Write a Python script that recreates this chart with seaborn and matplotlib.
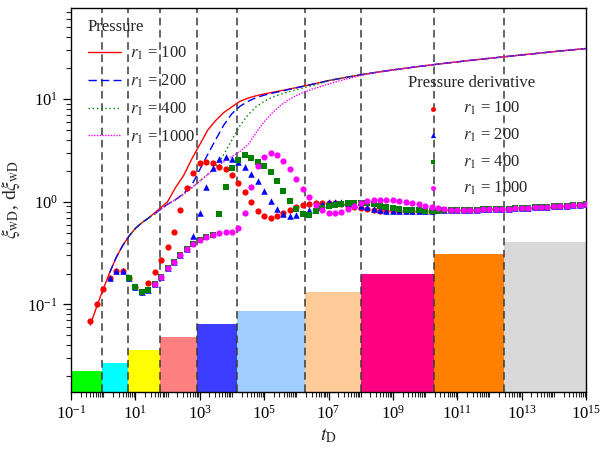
import matplotlib
matplotlib.use("Agg")
import matplotlib.pyplot as plt
import matplotlib.ticker as mticker
import numpy as np
import seaborn as sns

# time grid of the derivative points (log10 t_D)
t_deriv_exp = [-0.4, -0.2, 0.0, 0.2, 0.4, 0.6, 0.8, 1.0, 1.2, 1.4,
               1.6, 1.8, 2.0, 2.2, 2.4, 2.6, 2.8, 3.0, 3.2, 3.4,
               3.6, 3.8, 4.0, 4.2, 4.4, 4.6, 4.8, 5.0, 5.2, 5.4,
               5.6, 5.8, 6.0, 6.2, 6.4, 6.6, 6.8, 7.0, 7.2, 7.4,
               7.6, 7.8, 8.0, 8.2, 8.4, 8.6, 8.8, 9.0, 9.2, 9.4,
               9.6, 9.8, 10.0, 10.2, 10.4, 10.6, 10.8, 11.0, 11.2, 11.4,
               11.6, 11.8, 12.0, 12.2, 12.4, 12.6, 12.8, 13.0, 13.2, 13.4,
               13.6, 13.8, 14.0, 14.2, 14.4, 14.6, 14.8, 15.0]

# derivative values
d_early = [0.069, 0.100, 0.141, 0.182, 0.214, 0.214, 0.182, 0.148, 0.132]
d_late = [0.828, 0.832, 0.834, 0.838, 0.841, 0.845, 0.849, 0.853, 0.859, 0.865,
          0.871, 0.877, 0.883, 0.889, 0.895, 0.902, 0.910, 0.918, 0.927, 0.935, 0.942]
d_r100 = [0.162, 0.207, 0.272, 0.364, 0.509, 0.836, 1.37, 1.92, 2.40, 2.45,
          2.40, 2.19, 2.09, 1.83, 1.53, 1.25, 1.00, 0.817, 0.730, 0.700,
          0.730, 0.780, 0.836, 0.893, 0.935, 0.955, 0.966, 0.977, 0.977, 0.966,
          0.944, 0.912, 0.881, 0.861, 0.841, 0.826, 0.813, 0.807, 0.804, 0.804,
          0.804, 0.807, 0.813, 0.817, 0.820, 0.822, 0.824, 0.826]
d_r200 = [0.138, 0.158, 0.186, 0.224, 0.26, 0.302, 0.347,
          0.468, 0.782, 1.40, 2.14, 2.63, 2.75, 2.63, 2.45, 2.19, 1.86,
          1.58, 1.28, 1.02, 0.855, 0.764, 0.730, 0.746, 0.782, 0.836, 0.891,
          0.944, 0.989, 1.0, 1.0, 0.977, 0.944, 0.912, 0.881, 0.851, 0.832,
          0.817, 0.809, 0.804, 0.804, 0.807, 0.813, 0.817, 0.820, 0.822, 0.824,
          0.826]
d_r400 = [0.138, 0.158, 0.186, 0.224, 0.26, 0.302, 0.347, 0.389, 0.427, 0.457, 0.479,
          0.764, 1.40, 2.14, 2.57, 2.82, 2.69, 2.45, 2.24, 1.95, 1.60,
          1.28, 1.02, 0.855, 0.764, 0.746, 0.813, 0.871, 0.912, 0.933, 0.955,
          0.973, 0.977, 0.977, 0.966, 0.944, 0.912, 0.881, 0.861, 0.848, 0.836,
          0.828, 0.822, 0.818, 0.818, 0.820, 0.822, 0.826]
d_r1000 = [0.158, 0.186, 0.224, 0.26, 0.302, 0.347, 0.389, 0.427, 0.457, 0.479,
           0.50, 0.513, 0.513, 0.55,
           0.782, 1.40, 2.24, 2.75, 2.95, 2.82, 2.51, 2.09, 1.66, 1.33,
           1.10, 0.933, 0.832, 0.785, 0.776, 0.794, 0.841, 0.912, 0.977, 1.01,
           1.03, 1.035, 1.035, 1.03, 1.02, 1.0, 0.977, 0.944, 0.912, 0.881,
           0.861, 0.848, 0.836]

# time grid of the pressure curves (log10 t_D)
t_press_exp = [-0.4, -0.2, 0.0, 0.2, 0.4, 0.6, 0.8, 1.0, 1.2, 1.4,
               1.6, 1.8, 2.0, 2.25, 2.5, 2.75, 3.0, 3.25, 3.5, 3.75,
               4.0, 4.25, 4.5, 4.75, 5.0, 5.25, 5.5, 5.75, 6.0, 6.25,
               6.5, 6.75, 7.0, 7.5, 8.0, 8.5, 9.0, 9.5, 10.0, 10.5,
               11.0, 11.5, 12.0, 12.5, 13.0, 13.5, 14.0, 14.5, 15.0]
p_early = [0.063, 0.0955, 0.141, 0.204, 0.285, 0.372, 0.462, 0.55, 0.624, 0.692]
p_late = [15.1, 16.15, 17.2, 18.2, 19.2, 20.15, 21.1, 22.05, 23.0, 23.95,
          24.9, 25.85, 26.85, 27.85, 28.9, 29.95, 31.0]
p_r100 = [0.78, 0.88, 1.0, 1.38, 1.80, 2.6, 3.6, 5.0, 6.2, 7.4, 8.4, 9.5, 10.2,
          10.75, 11.2, 11.6, 12.0, 12.45, 12.9, 13.4, 13.95, 14.5]
p_r200 = [0.762, 0.851, 0.944, 1.05, 1.2, 1.45, 2.05, 2.9, 4.05, 5.6, 7.2, 8.5, 9.5,
          10.3, 10.9, 11.4, 11.85, 12.35, 12.85, 13.35, 13.9, 14.45]
p_r400 = [0.762, 0.851, 0.944, 1.047, 1.19, 1.365, 1.585, 1.85, 2.2, 2.9, 4.0, 5.5, 7.0,
          8.4, 9.5, 10.4, 11.1, 11.7, 12.3, 12.9, 13.5, 14.2]
p_r1000 = [0.762, 0.851, 0.944, 1.047, 1.19, 1.365, 1.585, 1.84, 2.14, 2.455, 2.754, 3.09, 3.6,
           4.7, 6.0, 7.3, 8.6, 9.8, 10.8, 11.7, 12.5, 13.2, 14.0, 15.5, 16.9]

# flow regimes (shaded bars)
regime_edges = [0.1, 0.94, 5.77, 59.4, 839, 1.41e4, 1.9e6, 1.02e8, 1.93e10, 2.75e12, 1e15]
regime_heights = [0.0225, 0.0269, 0.036, 0.0482, 0.0645, 0.0865, 0.132, 0.198, 0.311, 0.407]
regime_colors = ['#00FF00', '#00FFFF', '#FFFF00', '#FF8080', '#3C3CFF',
                 '#A0CFFF', '#FFCC99', '#FF0080', '#FF8000', '#D9D9D9']

labels = ['$r_1$ = 100', '$r_1$ = 200', '$r_1$ = 400', '$r_1$ = 1000']
colors = ['#FF0000', '#0000FF', '#008000', '#FF00FF']
markers = ['o', '^', 's', 'o']
marker_sizes = [20, 22, 17, 20]
dashes = [None, (6, 3), (1, 2), (1, 1)]

sns.set_style('ticks')
plt.rcParams['font.family'] = ['Liberation Serif', 'DejaVu Serif']
plt.rcParams['mathtext.fontset'] = 'stix'
plt.rcParams['axes.unicode_minus'] = False

fig = plt.figure(figsize=(6.02, 4.51), dpi=100)
ax = fig.add_axes([71 / 602, 1 - 392 / 451, 515 / 602, 384 / 451])
ax.set_xscale('log')
ax.set_yscale('log')

# regime bars
lefts = regime_edges[:-1]
widths = np.diff(regime_edges)
ax.bar(lefts, np.array(regime_heights) - 1e-3, width=widths, bottom=1e-3,
       align='edge', color=regime_colors, linewidth=0, zorder=1)
for b in regime_edges[1:-1]:
    ax.axvline(b, color='#3a3a3a', linestyle=(0, (5, 3)), linewidth=1.1, zorder=2)

t_press = 10 ** np.array(t_press_exp)
t_deriv = 10 ** np.array(t_deriv_exp)

press_series = [p_early + p_r100 + p_late,
                p_early[3:] + p_r200 + p_late,
                p_early[6:] + p_r400 + p_late,
                p_r1000 + p_late[3:]]
deriv_series = [d_early + d_r100 + d_late,
                d_early[3:] + d_r200 + d_late,
                d_early[6:] + d_r400 + d_late,
                d_r1000 + d_late]

line_handles = []
for vals, c, dsh in zip(press_series, colors, dashes):
    t = t_press[len(t_press) - len(vals):]
    sns.lineplot(x=t, y=vals, ax=ax, color=c, linewidth=1.0, zorder=3)
    ln = ax.lines[-1]
    if dsh is not None:
        ln.set_dashes(dsh)
    line_handles.append(ln)

dot_handles = []
for vals, c, m, s in zip(deriv_series, colors, markers, marker_sizes):
    t = t_deriv[len(t_deriv) - len(vals):]
    sns.scatterplot(x=t, y=vals, ax=ax, color=c, marker=m, s=s, linewidth=0, zorder=4)
    dot_handles.append(ax.collections[-1])

ax.set_xlim(0.1, 1e15)
ax.set_ylim(0.01406, 76.9)

ax.xaxis.set_major_locator(mticker.FixedLocator([10.0 ** k for k in range(-1, 16, 2)]))
ax.xaxis.set_major_formatter(mticker.LogFormatterSciNotation())
ax.xaxis.set_minor_locator(mticker.LogLocator(base=10, subs=np.arange(1, 10), numticks=100))
ax.xaxis.set_minor_formatter(mticker.NullFormatter())
ax.yaxis.set_major_locator(mticker.LogLocator(base=10, numticks=20))
ax.yaxis.set_minor_locator(mticker.LogLocator(base=10, subs=np.arange(2, 10), numticks=100))
ax.yaxis.set_minor_formatter(mticker.NullFormatter())
ax.tick_params(which='major', direction='out', length=6, width=0.9, labelsize=12, colors='black')
ax.tick_params(which='minor', direction='out', length=3.5, width=0.8)
for sp in ax.spines.values():
    sp.set_visible(True)
    sp.set_color('black')
    sp.set_linewidth(1.0)

ax.set_xlabel('$t_\\mathrm{D}$', fontsize=14, labelpad=2)
ax.set_ylabel('$\\xi_\\mathrm{wD}$, d$\\xi_\\mathrm{wD}$', fontsize=14, labelpad=4)

leg1 = ax.legend(line_handles, labels, title='Pressure', loc='upper left',
                 bbox_to_anchor=(0.033, 0.972), frameon=False, fontsize=12,
                 title_fontsize=12, handlelength=2.0, handletextpad=0.5,
                 labelspacing=0.62, borderpad=0, borderaxespad=0, alignment='left')
ax.add_artist(leg1)
leg2 = ax.legend(dot_handles, labels, title='Pressure derivative', loc='upper left',
                 bbox_to_anchor=(0.655, 0.826), frameon=False, fontsize=12,
                 title_fontsize=12, handlelength=2.0, handletextpad=0.8,
                 labelspacing=0.55, borderpad=0, borderaxespad=0, markerscale=0.8)

fig.savefig('out.png', dpi=100)
